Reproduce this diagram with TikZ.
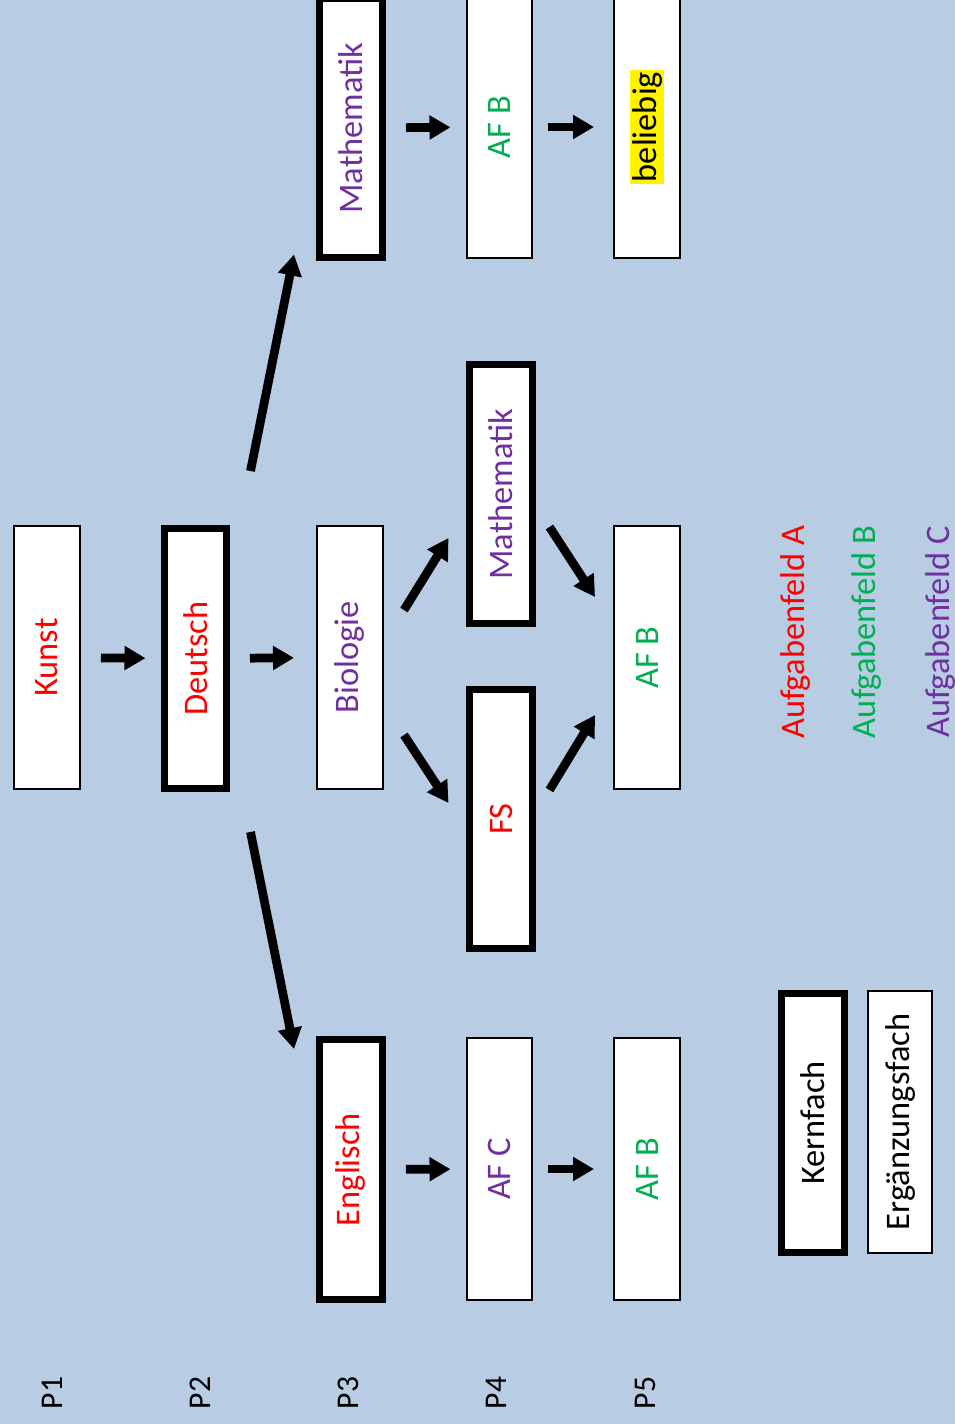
\documentclass[tikz,border=0pt]{standalone}
\usepackage{fontspec}
\setmainfont{Carlito}
\usepackage{graphicx}
\usepackage{xcolor}
\usepackage{tikz}
\usetikzlibrary{arrows.meta,calc}
\definecolor{hgblau}{RGB}{184,204,228}
\definecolor{afrot}{RGB}{255,0,0}
\definecolor{afgruen}{RGB}{0,176,80}
\definecolor{aflila}{RGB}{112,48,160}
\newcommand{\rt}[1]{\rotatebox{90}{#1}}

\begin{document}
\begin{tikzpicture}[x=0.02cm, y=-0.02cm,
  font=\fontsize{19.6}{23}\selectfont,
  ef/.style={draw, fill=white, line width=0.04cm, minimum width=1.32cm, minimum height=5.26cm, inner sep=0pt},
  kf/.style={draw, fill=white, line width=0.14cm, minimum width=1.26cm, minimum height=5.2cm, inner sep=0pt},
  pf/.style={line width=0.175cm, -{Triangle[length=0.42cm,width=0.46cm]}, shorten <=0.4cm, shorten >=0.3cm},
  pd/.style={pf, shorten <=0pt, shorten >=0pt},
  pk/.style={font=\fontsize{18}{22}\selectfont}]
\useasboundingbox (0,0) rectangle (955,1424);
\clip (0,0) rectangle (955,1424);
\fill[hgblau] (0,0) rectangle (955,1424);
% Spalte P1 und P2
\node[ef, text=afrot] (kun) at (47,657.5) {\rt{Kunst}};
\node[kf, text=afrot] (deu) at (195.5,658.5) {\rt{Deutsch}};
% Spalte P3
\node[kf, text=aflila] (mat1) at (351,128) {\rt{Mathematik}};
\node[ef, text=aflila] (bio) at (350,657.5) {\rt{Biologie}};
\node[kf, text=afrot] (eng) at (351,1169.5) {\rt{Englisch}};
% Spalte P4
\node[ef, text=afgruen] (afb1) at (499.5,127) {\rt{AF B}};
\node[kf, text=aflila] (mat2) at (501,494) {\rt{Mathematik}};
\node[kf, text=afrot] (fs) at (501,819) {\rt{FS}};
\node[ef, text=aflila] (afc) at (499.5,1169) {\rt{AF C}};
% Spalte P5
\node[ef] (bel) at (647,127) {\rt{\setlength{\fboxsep}{1pt}\colorbox{yellow}{beliebig}}};
\node[ef, text=afgruen] (afb2) at (647,657.5) {\rt{AF B}};
\node[ef, text=afgruen] (afb3) at (647,1169) {\rt{AF B}};
% Legende
\node[text=afrot] (lega) at (795,632) {\rt{Aufgabenfeld A}};
\node[text=afgruen] (legb) at (866,632) {\rt{Aufgabenfeld B}};
\node[text=aflila] (legc) at (940,632) {\rt{Aufgabenfeld C}};
\node[kf] (kern) at (812.5,1123) {\rt{Kernfach}};
\node[ef, minimum width=1.28cm] (erg) at (900,1122) {\rt{Ergänzungsfach}};
% Prüfungsfächer
\node[pk] (p1) at (52,1393) {\rt{P1}};
\node[pk] (p2) at (200,1393) {\rt{P2}};
\node[pk] (p3) at (348,1393) {\rt{P3}};
\node[pk] (p4) at (496,1393) {\rt{P4}};
\node[pk] (p5) at (645,1393) {\rt{P5}};
% Pfeile
\draw[pf] (kun) -- (deu);
\draw[pf, shorten <=0.39cm, shorten >=0.44cm] (deu) -- (bio);
\draw[pd] ($(deu.north east)+(20,-54)$) -- ($(mat1.south west)+(-22,-7)$);
\draw[pd] ($(deu.south east)+(20,40)$) -- ($(eng.north west)+(-22,13)$);
\draw[pd] ($(bio.east)+(20,-47.5)$) -- ($(mat2.west)+(-17.5,44)$);
\draw[pd] ($(bio.east)+(20,77.5)$) -- ($(fs.west)+(-17.5,-16)$);
\draw[pd] ($(mat2.east)+(13.5,33)$) -- ($(afb2.west)+(-18,-60.5)$);
\draw[pd] ($(fs.east)+(13.5,-29)$) -- ($(afb2.west)+(-18,57.5)$);
\draw[pf] (mat1) -- (afb1);
\draw[pf, shorten <=0.3cm, shorten >=0.38cm] (afb1) -- (bel);
\draw[pf] (eng) -- (afc);
\draw[pf, shorten <=0.3cm, shorten >=0.38cm] (afc) -- (afb3);
\end{tikzpicture}
\end{document}
